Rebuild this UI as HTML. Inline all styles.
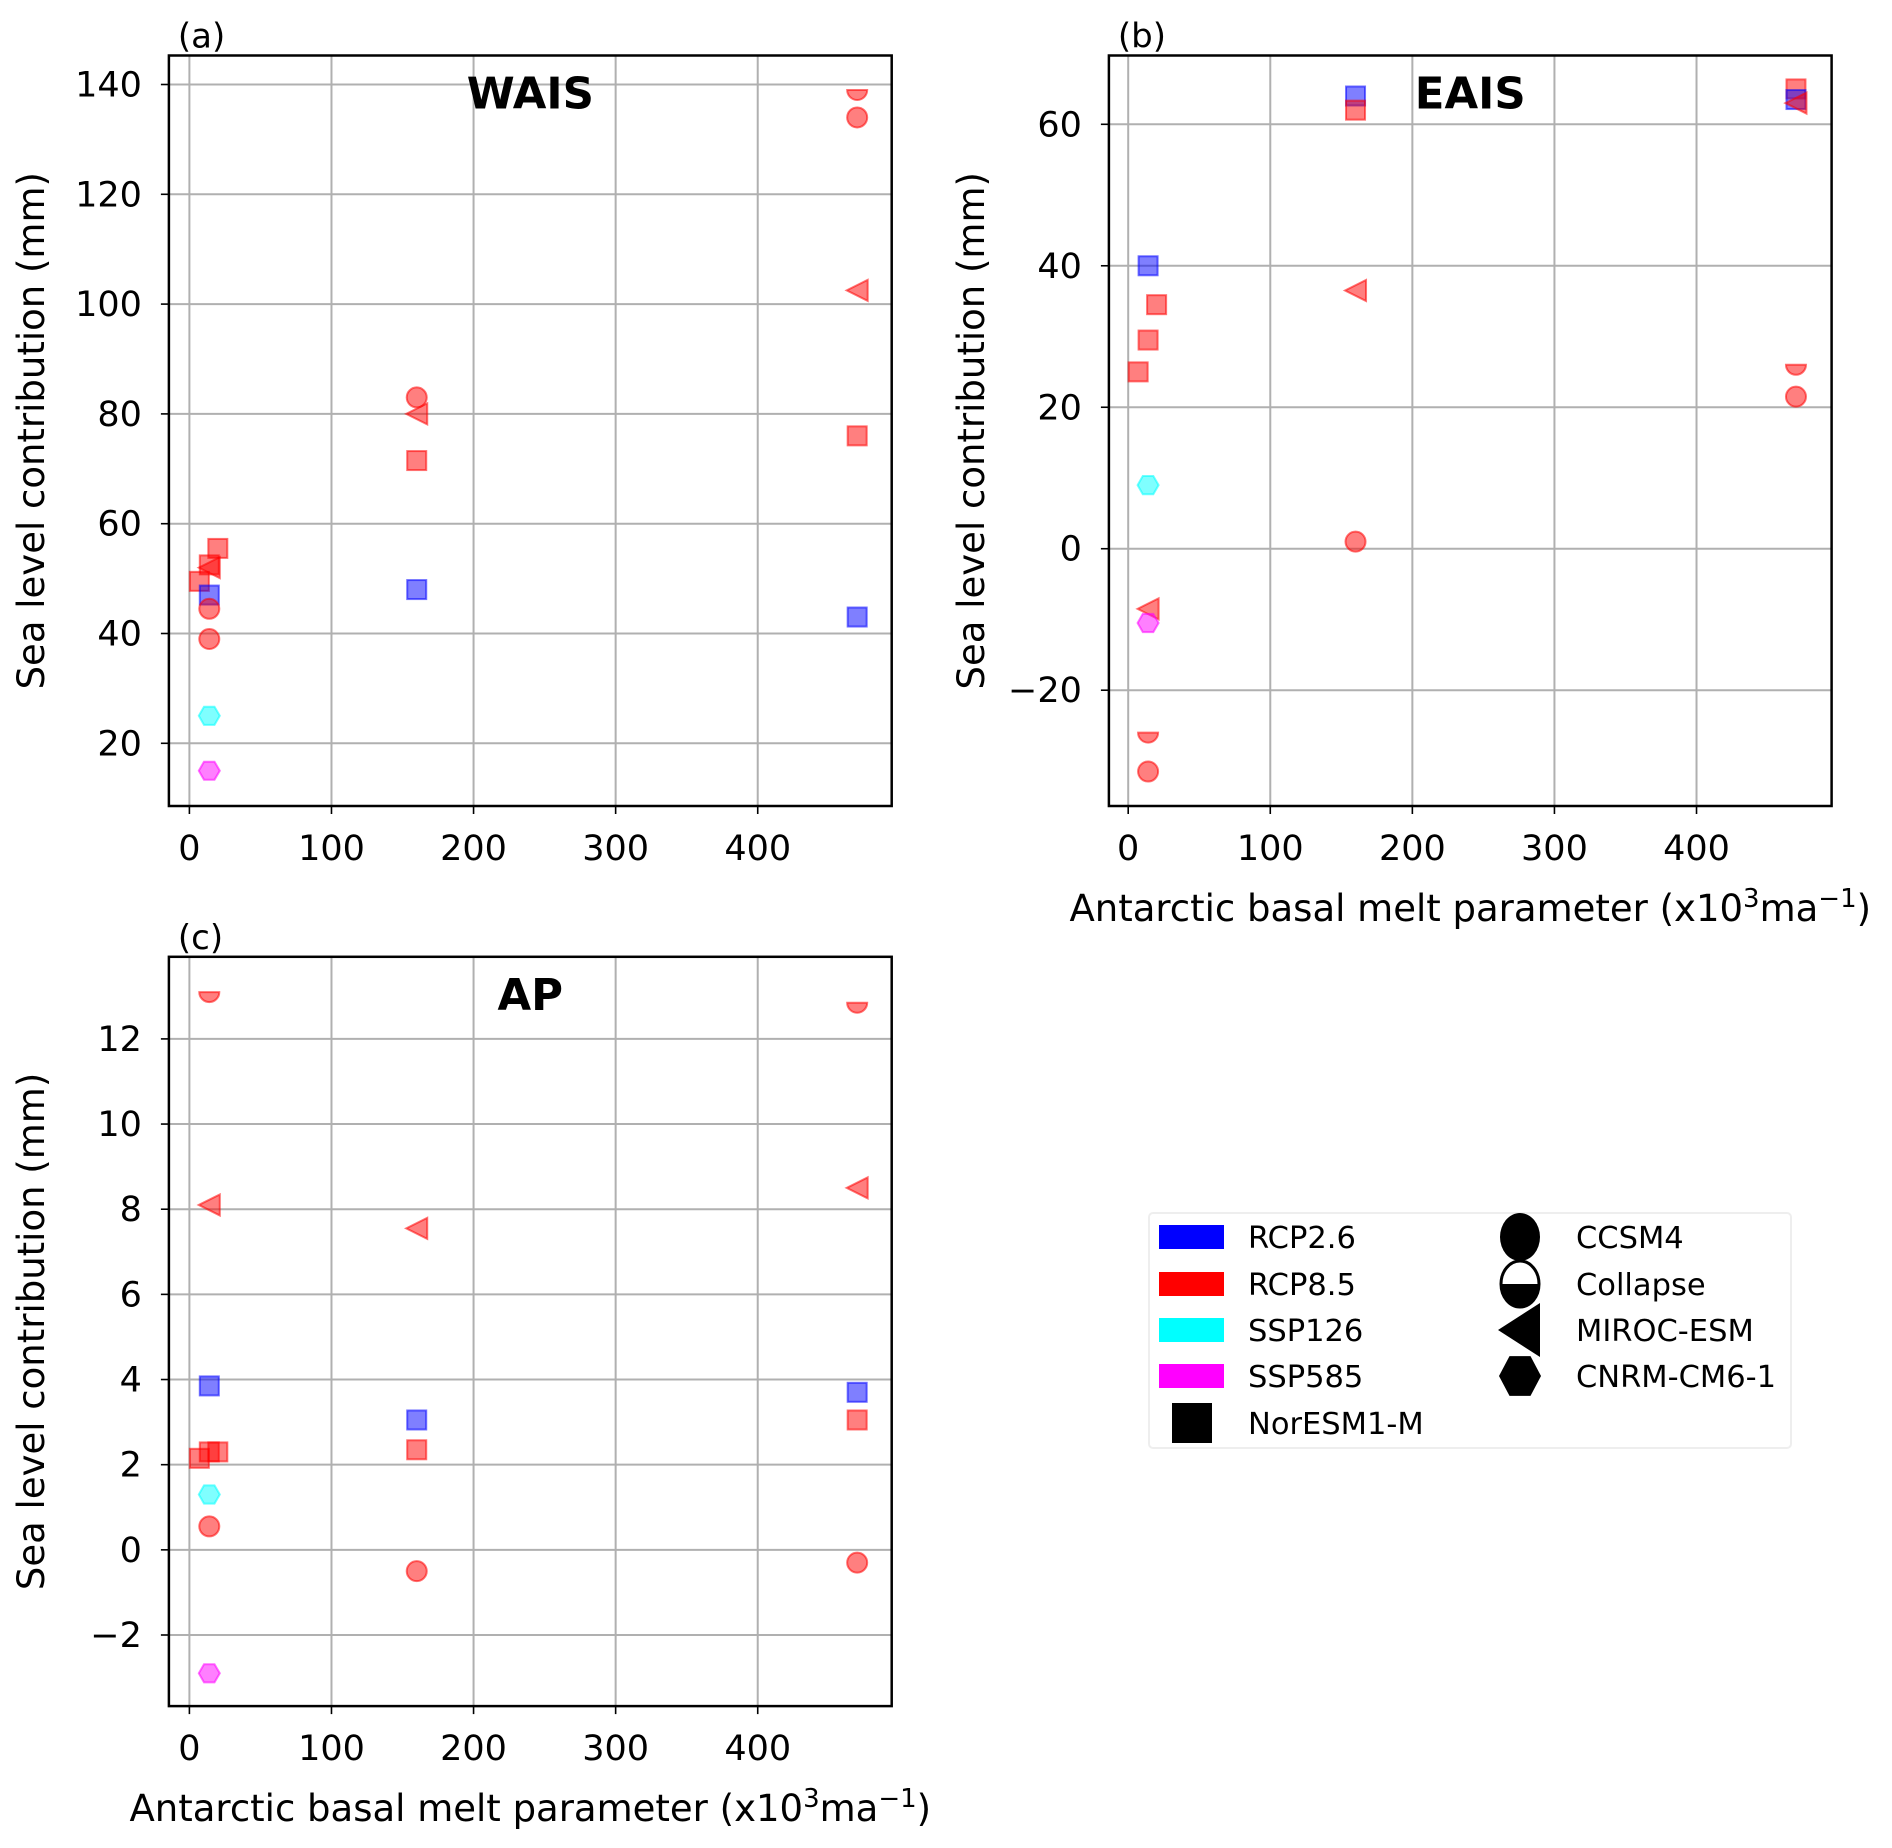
<!DOCTYPE html>
<html><head><meta charset="utf-8"><style>
html,body{margin:0;padding:0;background:#fff}
svg{display:block;font-family:"DejaVu Sans","Liberation Sans",sans-serif}
</style></head><body>
<svg id="fig" width="1892" height="1848" viewBox="0 0 1892 1848" xmlns="http://www.w3.org/2000/svg">
<rect width="1892" height="1848" fill="#fff"/>
<g id="legend">
<rect x="1149" y="1213" width="642" height="235" rx="4" fill="#fff" stroke="#eee" stroke-width="2"/>
</g>
</svg>
<script>
// ---- data ----
const panelNames = ['WAIS','EAIS','AP'];
const waisX = [470,470,470,160,160,160,470,20,14,14,7,14,14,14,14,14,160,470];
const waisY = [139,134,102.5,83,80,71.5,76,55.5,52.5,52,49.5,47,44.5,39,25,15,48,43];
const waisC = ['r','r','r','r','r','r','r','r','r','r','r','b','r','r','c','m','b','b'];
const waisS = ['half','circ','tri','circ','tri','sq','sq','sq','sq','tri','sq','sq','circ','circ','hex','hex','sq','sq'];
const eaisX = [160,160,470,470,470,14,20,14,7,160,470,470,14,160,14,14,14,14];
const eaisY = [64,62,65,63.5,63,40,34.5,29.5,25,36.5,26,21.5,9,1,-8.5,-10.5,-26,-31.5];
const eaisC = ['b','r','r','b','r','b','r','r','r','r','r','r','c','r','r','m','r','r'];
const eaisS = ['sq','sq','sq','sq','tri','sq','sq','sq','sq','tri','half','circ','hex','circ','tri','hex','half','circ'];
const apX = [14,470,14,160,470,14,160,470,7,14,20,160,470,14,14,160,470,14];
const apY = [13.1,12.85,8.1,7.55,8.5,3.85,3.05,3.7,2.15,2.3,2.3,2.35,3.05,1.3,0.55,-0.5,-0.3,-2.9];
const apC = ['r','r','r','r','r','b','b','b','r','r','r','r','r','c','r','r','r','m'];
const apS = ['half','half','tri','tri','tri','sq','sq','sq','sq','sq','sq','sq','sq','hex','circ','circ','circ','hex'];
const xTicks = [0,100,200,300,400];
const waisTicks = [20,40,60,80,100,120,140];
const eaisTicks = [-20,0,20,40,60];
const apTicks = [-2,0,2,4,6,8,10,12];
const legendColors = ['RCP2.6','RCP8.5','SSP126','SSP585'];
const legendModels = ['CCSM4','Collapse','MIROC-ESM','CNRM-CM6-1'];

const NS='http://www.w3.org/2000/svg';
const svg=document.getElementById('fig');
const COL={r:'255,0,0',b:'0,0,255',c:'0,255,255',m:'255,0,255'};
function mk(tag,attrs,parent){const e=document.createElementNS(NS,tag);for(const k in attrs)e.setAttribute(k,attrs[k]);(parent||svg).appendChild(e);return e;}
function txt(s,attrs,parent){const e=mk('text',attrs,parent);e.textContent=s;return e;}

const panels=[
 {id:'a',L:168.9,R:891.7,T:55.5,B:806,x0:189.4,xs:1.4208,yv0:140,yp0:84.5,ys:(743.3-84.5)/120,X:waisX,Y:waisY,C:waisC,S:waisS,ticks:waisTicks,name:panelNames[0],xlabel:false},
 {id:'b',L:1108.9,R:1831.6,T:55.5,B:806,x0:1128.2,xs:1.4208,yv0:60,yp0:124.3,ys:(690.2-124.3)/80,X:eaisX,Y:eaisY,C:eaisC,S:eaisS,ticks:eaisTicks,name:panelNames[1],xlabel:true},
 {id:'c',L:168.9,R:891.7,T:956.8,B:1706.1,x0:189.4,xs:1.4208,yv0:12,yp0:1038.9,ys:(1635-1038.9)/14,X:apX,Y:apY,C:apC,S:apS,ticks:apTicks,name:panelNames[2],xlabel:true}
];

function marker(g,shape,cx,cy,col){
 const f='rgba('+col+',0.5)', s='rgba('+col+',0.55)';
 let e;
 if(shape==='sq') e=mk('rect',{x:cx-9.5,y:cy-9.5,width:19,height:19,fill:f,stroke:s,'stroke-width':2},g);
 else if(shape==='circ') e=mk('circle',{cx:cx,cy:cy,r:10,fill:f,stroke:s,'stroke-width':2},g);
 else if(shape==='half') e=mk('path',{d:`M${cx-10},${cy} A10,10 0 0 0 ${cx+10},${cy} Z`,fill:f,stroke:s,'stroke-width':2},g);
 else if(shape==='tri') e=mk('polygon',{points:`${cx-10.5},${cy} ${cx+10.5},${cy-10.5} ${cx+10.5},${cy+10.5}`,fill:f,stroke:s,'stroke-width':2},g);
 else { let p=[];for(let k=0;k<6;k++){const a=Math.PI/3*k;p.push((cx+10.5*Math.cos(a)).toFixed(1)+','+(cy+10.5*Math.sin(a)).toFixed(1));}
   e=mk('polygon',{points:p.join(' '),fill:f,stroke:s,'stroke-width':2},g);}
 return e;
}

panels.forEach(P=>{
 const xp=v=>P.x0+v*P.xs, yp=v=>P.yp0+(P.yv0-v)*P.ys;
 const g=mk('g',{});
 
 
 const clip=mk('clipPath',{id:'clip'+P.id},g);mk('rect',{x:P.L,y:P.T,width:P.R-P.L,height:P.B-P.T},clip);
 xTicks.forEach(t=>{const x=xp(t);
  const l=mk('line',{x1:x,x2:x,y1:P.T,y2:P.B,stroke:'#b0b0b0','stroke-width':2},g);
  
  
  mk('line',{x1:x,x2:x,y1:P.B,y2:P.B+8,stroke:'#000','stroke-width':1.6},g);
  const tl=txt(String(t),{x:x,y:P.B+54,'font-size':35,'text-anchor':'middle'},g);
  
  });
 P.ticks.forEach(t=>{const y=yp(t);
  const l=mk('line',{x1:P.L,x2:P.R,y1:y,y2:y,stroke:'#b0b0b0','stroke-width':2},g);
  
  
  mk('line',{x1:P.L-8,x2:P.L,y1:y,y2:y,stroke:'#000','stroke-width':1.6},g);
  const tl=txt(String(t).replace('-','\u2212'),{x:P.L-27,y:y+12,'font-size':35,'text-anchor':'end'},g);
  
  });
 const mg=mk('g',{'clip-path':'url(#clip'+P.id+')'},g);
 P.X.forEach((xv,i)=>{const m=marker(mg,P.S[i],xp(xv),yp(P.Y[i]),COL[P.C[i]]);
  
  });
 mk('rect',{x:P.L,y:P.T,width:P.R-P.L,height:P.B-P.T,fill:'none',stroke:'#000','stroke-width':2.5},g);
 const t=txt(P.name,{x:(P.L+P.R)/2,y:P.T+53,'font-size':43.5,'font-weight':'bold','text-anchor':'middle'},g);
 
 
 const pl=txt('('+P.id+')',{x:P.L+9,y:P.T-8,'font-size':34},g);
 
 
 const cy=(P.T+P.B)/2, lx=P.L-125;
 const yl=txt('Sea level contribution (mm)',{x:lx,y:cy,'font-size':37,'text-anchor':'middle',transform:`rotate(-90 ${lx} ${cy})`},g);
 
 
 if(P.xlabel){
  const xl=mk('text',{x:(P.L+P.R)/2,y:P.B+115,'font-size':37,'text-anchor':'middle'},g);
  
  
  xl.innerHTML='Antarctic basal melt parameter (x10<tspan dy="-14" font-size="26">3</tspan><tspan dy="14">ma</tspan><tspan dy="-14" font-size="26">\u22121</tspan><tspan dy="14">)</tspan>';
 }
});

// legend
const lg=document.getElementById('legend');
const rowY=[1237,1284,1330,1376,1423];
const swatch=['#0000ff','#ff0000','#00ffff','#ff00ff'];
legendColors.forEach((n,i)=>{
 const r=mk('rect',{x:1159,y:rowY[i]-12,width:65,height:24,fill:swatch[i]},lg);
 
 
 const t=txt(n,{x:1248,y:rowY[i]+11,'font-size':30.5},lg);
 
 
});
mk('rect',{x:1172,y:rowY[4]-20,width:40,height:40,fill:'#000'},lg);
const nt=txt('NorESM1-M',{x:1248,y:rowY[4]+11,'font-size':30.5},lg);


const mx=1520;
mk('ellipse',{cx:mx,cy:rowY[0],rx:20,ry:24,fill:'#000'},lg);
mk('ellipse',{cx:mx,cy:rowY[1],rx:19,ry:23,fill:'#fff',stroke:'#000','stroke-width':3},lg);
mk('path',{d:`M${mx-20},${rowY[1]} A20,24 0 0 0 ${mx+20},${rowY[1]} Z`,fill:'#000'},lg);
mk('polygon',{points:`${mx-22},${rowY[2]} ${mx+20},${rowY[2]-27} ${mx+20},${rowY[2]+27}`,fill:'#000'},lg);
let hp=[];for(let k=0;k<6;k++){const a=Math.PI/3*k;hp.push((mx+21*Math.cos(a))+','+(rowY[3]+23*Math.sin(a)));}
mk('polygon',{points:hp.join(' '),fill:'#000'},lg);
legendModels.forEach((n,i)=>{
 const t=txt(n,{x:1576,y:rowY[i]+11,'font-size':30.5},lg);
 
 
});
</script>
</body></html>
